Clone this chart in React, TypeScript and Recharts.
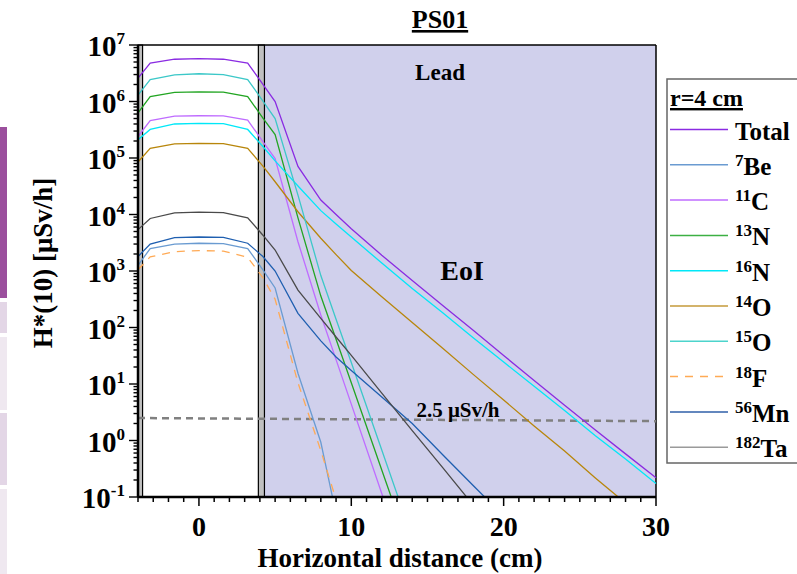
import {
  LineChart,
  Line,
  XAxis,
  YAxis,
  ReferenceArea,
  ReferenceLine,
} from "recharts";

const SERIF = "'Liberation Serif', 'Times New Roman', serif";

// horizontal distance (cm)
const xs = [-4, -3.2, -1.6, 0, 1.6, 3.2, 4.2, 5, 6.5, 8, 9, 10, 12, 14, 16, 18, 20, 22, 24, 26, 28, 30];

// H*(10) in uSv/h, one value per xs entry (shorter arrays stop once off the plot)
const total = [2.6e6, 4.8e6, 5.6e6, 5.75e6, 5.6e6, 4.8e6, 2.0e6, 1.0e6, 7.1e4, 1.8e4, 1.0e4, 5.6e3, 1.9e3, 680, 245, 89, 32, 11.5, 4.2, 1.55, 0.58, 0.22];
const be7 = [1.26e3, 2.5e3, 3.0e3, 3.1e3, 3.05e3, 2.5e3, 1.05e3, 500, 15.5, 0.93, 0.05];
const c11 = [2.4e5, 4.6e5, 5.5e5, 5.6e5, 5.55e5, 4.7e5, 1.95e5, 9.8e4, 3.3e3, 166, 27, 4.4, 0.115, 0.0032];
const n13 = [6.3e5, 1.22e6, 1.45e6, 1.48e6, 1.46e6, 1.22e6, 5.1e5, 2.6e5, 8.7e3, 360, 62, 10.5, 0.3, 0.0087];
const n16 = [2.1e5, 3.2e5, 4.0e5, 4.1e5, 4.05e5, 3.2e5, 1.6e5, 8.9e4, 3.2e4, 1.17e4, 6.8e3, 4.0e3, 1.38e3, 490, 182, 66, 24.5, 9.1, 3.4, 1.23, 0.47, 0.174];
const o14 = [8.5e4, 1.48e5, 1.78e5, 1.82e5, 1.8e5, 1.48e5, 7.2e4, 3.8e4, 1.12e4, 3.8e3, 1.95e3, 1.02e3, 350, 123, 43, 14.8, 5.2, 1.8, 0.65, 0.22, 0.078];
const o15 = [1.3e6, 2.45e6, 2.95e6, 3.1e6, 3.0e6, 2.45e6, 1.02e6, 5.0e5, 2.2e4, 830, 140, 24, 0.68, 0.019];
const f18 = [1.05e3, 1.78e3, 2.2e3, 2.3e3, 2.25e3, 1.74e3, 760, 316, 10.5, 0.66, 0.09];
const mn56 = [1.8e3, 3.0e3, 3.9e3, 4.0e3, 3.95e3, 3.1e3, 1.8e3, 1.0e3, 178, 58, 30, 17.4, 5.9, 2.0, 0.56, 0.16, 0.046];
const ta182 = [5.4e3, 8.5e3, 1.07e4, 1.1e4, 1.08e4, 8.7e3, 4.3e3, 2.35e3, 460, 145, 68, 32, 6.9, 1.5, 0.33, 0.072];

const xTicks = [-4, -3, -2, -1, 0, 1, 2, 3, 4, 5, 6, 7, 8, 9, 10, 11, 12, 13, 14, 15, 16, 17, 18, 19, 20, 21, 22, 23, 24, 25, 26, 27, 28, 29, 30];
const decades = [0.1, 1, 10, 100, 1e3, 1e4, 1e5, 1e6];
const mantissas = [1, 2, 3, 4, 5, 6, 7, 8, 9];
const yTicks = [...decades.flatMap((d) => mantissas.map((m) => m * d)), 1e7];

const series = [
  { key: "total", label: "Total", sup: "", vals: total, color: "#8a2be2", legend: "#8a2be2" },
  { key: "be7", label: "Be", sup: "7", vals: be7, color: "#6a9bd1", legend: "#6a9bd1" },
  { key: "c11", label: "C", sup: "11", vals: c11, color: "#bf6cff", legend: "#bf6cff" },
  { key: "n13", label: "N", sup: "13", vals: n13, color: "#22a522", legend: "#3cb043" },
  { key: "n16", label: "N", sup: "16", vals: n16, color: "#00e8f8", legend: "#00e8f8" },
  { key: "o14", label: "O", sup: "14", vals: o14, color: "#b8860b", legend: "#c49a3a" },
  { key: "o15", label: "O", sup: "15", vals: o15, color: "#3cc8c8", legend: "#4cd4cc" },
  { key: "f18", label: "F", sup: "18", vals: f18, color: "#ffaa55", legend: "#ffaa55", dash: "8 7" },
  { key: "mn56", label: "Mn", sup: "56", vals: mn56, color: "#1f5fb0", legend: "#2f5fa8" },
  { key: "ta182", label: "Ta", sup: "182", vals: ta182, color: "#4a4a4a", legend: "#9a9a9a" },
];

const rows = xs.map((x, i) => {
  const r: Record<string, number | undefined> = { x };
  series.forEach((s) => {
    r[s.key] = s.vals[i];
  });
  return r;
});

function XTick(props: any) {
  const { x, y, payload } = props;
  const v = payload.value;
  const major = v % 10 === 0;
  return (
    <g>
      <line x1={x} x2={x} y1={y} y2={y + (major ? 9 : 5)} stroke="#000" strokeWidth={1.5} />
      {major && (
        <text x={x} y={y + 39} textAnchor="middle" fontFamily={SERIF} fontWeight="bold" fontSize={28} fill="#000">
          {v}
        </text>
      )}
    </g>
  );
}

function YTick(props: any) {
  const { x, y, payload } = props;
  const v = payload.value;
  const e = Math.round(Math.log10(v));
  const major = Math.abs(v / Math.pow(10, e) - 1) < 1e-6;
  return (
    <g>
      <line x1={x} x2={x - (major ? 9 : 4.5)} y1={y} y2={y} stroke="#000" strokeWidth={1.4} />
      {major && (
        <text x={x - 13} y={y + 11} textAnchor="end" fontFamily={SERIF} fontWeight="bold" fontSize={29} fill="#000">
          10
          <tspan dy={-12} fontSize={17}>
            {e}
          </tspan>
        </text>
      )}
    </g>
  );
}

const strips = [
  { y: 127, h: 171, c: "#9b4f9d" },
  { y: 302, h: 31, c: "#e3d6e6" },
  { y: 337, h: 73, c: "#efe8f0" },
  { y: 413, h: 72, c: "#e3d6e6" },
  { y: 489, h: 85, c: "#efe8f0" },
];

export default function App() {
  const txt = { fontFamily: SERIF, fontWeight: "bold" as const, fill: "#000" };
  return (
    <div style={{ position: "absolute", left: 0, top: 0, width: 797, height: 574, overflow: "hidden", background: "#fff" }}>
      <LineChart width={797} height={574} data={rows} margin={{ top: 45, right: 141, bottom: 0, left: 0 }}>
        <ReferenceArea x1={4.3} x2={30} fill="#d0d0ec" fillOpacity={1} stroke="none" />
        <ReferenceArea x1={-4} x2={-3.7} fill="#c0c0c0" fillOpacity={1} stroke="#000" strokeWidth={1.2} />
        <ReferenceArea x1={3.9} x2={4.3} fill="#c0c0c0" fillOpacity={1} stroke="#000" strokeWidth={1.2} />
        <ReferenceLine y={1e7} stroke="#000" strokeWidth={1.5} />
        <ReferenceLine x={30} stroke="#000" strokeWidth={1.5} />
        <XAxis
          type="number"
          dataKey="x"
          domain={[-4, 30]}
          ticks={xTicks}
          interval={0}
          tickLine={false}
          tickSize={0}
          tickMargin={0}
          tick={<XTick />}
          height={77}
          axisLine={{ stroke: "#000", strokeWidth: 2.5 }}
        />
        <YAxis
          scale="log"
          domain={[0.1, 1e7]}
          allowDataOverflow
          ticks={yTicks}
          interval={0}
          tickLine={false}
          tickSize={0}
          tickMargin={0}
          tick={<YTick />}
          width={138}
          axisLine={{ stroke: "#000", strokeWidth: 2.5 }}
        />
        <ReferenceLine
          segment={[
            { x: -4, y: 2.5 },
            { x: 30, y: 2.2 },
          ]}
          stroke="#808080"
          strokeWidth={2.5}
          strokeDasharray="7 5"
        />
        {series.map((s) => (
          <Line
            key={s.key}
            dataKey={s.key}
            type="linear"
            stroke={s.color}
            strokeWidth={1.3}
            strokeDasharray={s.dash}
            dot={false}
            activeDot={false}
            isAnimationActive={false}
          />
        ))}
      </LineChart>
      <svg width={797} height={574} style={{ position: "absolute", left: 0, top: 0, pointerEvents: "none" }}>
        {strips.map((s, i) => (
          <rect key={i} x={0} y={s.y} width={7} height={s.h} fill={s.c} />
        ))}
        <text x={440} y={28} textAnchor="middle" fontSize={26} textDecoration="underline" {...txt}>
          PS01
        </text>
        <text x={440} y={80} textAnchor="middle" fontSize={23} {...txt}>
          Lead
        </text>
        <text x={462} y={280} textAnchor="middle" fontSize={28} {...txt}>
          EoI
        </text>
        <text x={458} y={417} textAnchor="middle" fontSize={21} {...txt}>
          2.5 μSv/h
        </text>
        <text x={400} y={567} textAnchor="middle" fontSize={27} {...txt}>
          Horizontal distance (cm)
        </text>
        <text x={52} y={263} textAnchor="middle" fontSize={27} transform="rotate(-90 52 263)" {...txt}>
          H*(10) [μSv/h]
        </text>
        <rect x={667} y={79} width={140} height={384} fill="#fff" stroke="#666" strokeWidth={1.5} />
        <text x={670} y={106} fontSize={24} textDecoration="underline" {...txt}>
          r=4 cm
        </text>
        {series.map((s, i) => {
          const cy = 129.5 + i * 35.3;
          return (
            <g key={s.key}>
              <line x1={670} x2={728} y1={cy} y2={cy} stroke={s.legend} strokeWidth={1.5} strokeDasharray={s.dash} />
              <text x={735} y={cy + 10} fontSize={25} {...txt}>
                {s.sup && (
                  <tspan fontSize={17} dy={-9}>
                    {s.sup}
                  </tspan>
                )}
                <tspan dy={s.sup ? 9 : 0}>{s.label}</tspan>
              </text>
            </g>
          );
        })}
      </svg>
    </div>
  );
}
